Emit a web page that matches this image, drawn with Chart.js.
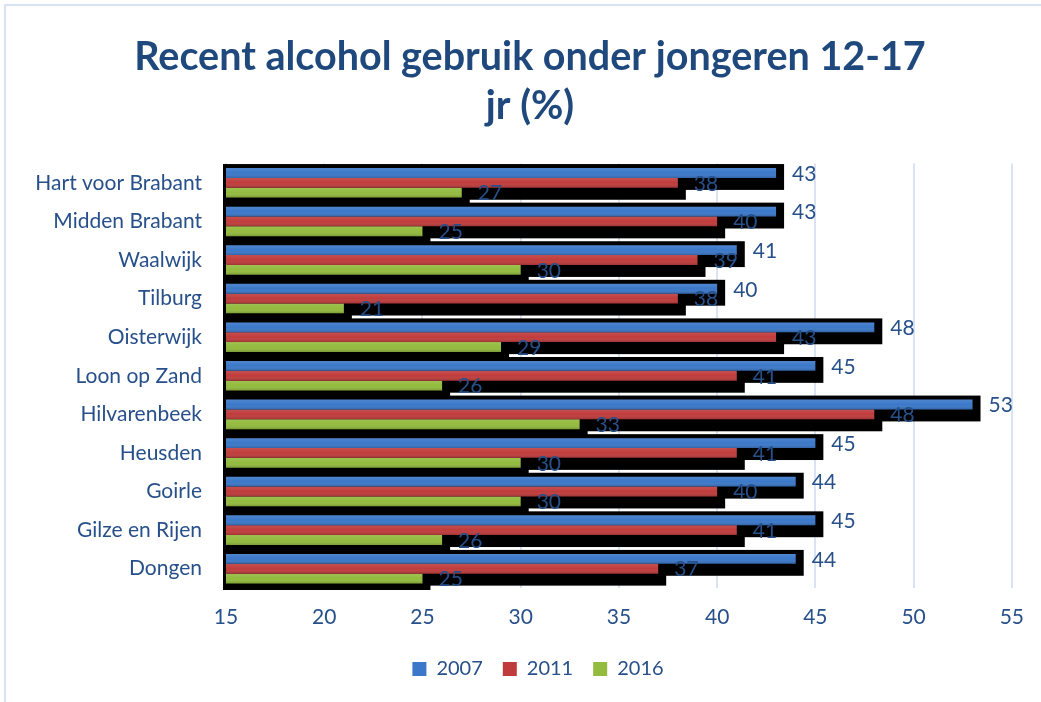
<!DOCTYPE html>
<html>
<head>
<meta charset="utf-8">
<script src="https://cdn.jsdelivr.net/npm/chart.js@4.4.1/dist/chart.umd.min.js"></script>
<style>
  html, body { margin: 0; padding: 0; background: #ffffff; }
  #wrap { position: relative; width: 1041px; height: 702px; overflow: hidden; }
  #frame { position: absolute; left: 4px; top: 4px; width: 1100px; height: 800px;
           border-left: 2px solid #d6e2f3; border-top: 2px solid #d6e2f3; }
  canvas { position: absolute; left: 0; top: 0; }
</style>
</head>
<body>
<div id="wrap">
  <div id="frame"></div>
  <canvas id="c" width="1041" height="702"></canvas>
</div>
<script>
const categories = ['Hart voor Brabant', 'Midden Brabant', 'Waalwijk', 'Tilburg', 'Oisterwijk',
  'Loon op Zand', 'Hilvarenbeek', 'Heusden', 'Goirle', 'Gilze en Rijen', 'Dongen'];
const seriesNames = ['2007', '2011', '2016'];
const values2007 = [43, 43, 41, 40, 48, 45, 53, 45, 44, 45, 44];
const values2011 = [38, 40, 39, 38, 43, 41, 48, 41, 40, 41, 37];
const values2016 = [27, 25, 30, 21, 29, 26, 33, 30, 30, 26, 25];
const xTicks = [15, 20, 25, 30, 35, 40, 45, 50, 55];

const TEXT = '#27508a';
const FONT = 'Lato, "Open Sans", sans-serif';

const shadowPlugin = {
  id: 'barShadows',
  afterLayout(chart) {
    if (chart.titleBlock) { chart.titleBlock.left += 24; chart.titleBlock.right += 24; }
    if (chart.legend) { chart.legend.left += 32; chart.legend.right += 32; }
  },
  beforeDatasetsDraw(chart) {
    const ctx = chart.ctx;
    const area = chart.chartArea;
    ctx.save();
    ctx.beginPath();
    ctx.rect(area.left - 3, area.top - 1, area.right - area.left + 20, area.bottom - area.top + 3);
    ctx.clip();
    ctx.fillStyle = '#000000';
    chart.data.datasets.forEach((ds, di) => {
      const meta = chart.getDatasetMeta(di);
      meta.data.forEach(el => {
        const h = el.height;
        const top = el.y - h / 2 - 4;
        const bottom = el.y + h / 2 + 12;
        ctx.fillRect(el.base - 2, top, el.x - el.base + 2 + 8, bottom - top);
      });
    });
    ctx.restore();
  }
};

const labelPlugin = {
  id: 'valueLabels',
  afterDatasetsDraw(chart) {
    const ctx = chart.ctx;
    const area = chart.chartArea;
    ctx.save();
    ctx.beginPath();
    ctx.rect(area.left, area.top, area.right - area.left, area.bottom - area.top);
    ctx.clip();
    // subtle vertical shading on each bar (lighter top, darker bottom)
    chart.data.datasets.forEach((ds, di) => {
      const meta = chart.getDatasetMeta(di);
      meta.data.forEach(el => {
        const h = el.height;
        const top = el.y - h / 2;
        const g = ctx.createLinearGradient(0, top, 0, top + h);
        g.addColorStop(0, 'rgba(255,255,255,0.10)');
        g.addColorStop(0.5, 'rgba(255,255,255,0)');
        g.addColorStop(1, 'rgba(0,0,0,0.18)');
        ctx.fillStyle = g;
        ctx.fillRect(el.base, top, el.x - el.base, h);
      });
    });
    ctx.restore();
    ctx.save();
    ctx.font = '21px ' + FONT;
    ctx.fillStyle = TEXT;
    ctx.textAlign = 'left';
    ctx.textBaseline = 'middle';
    chart.data.datasets.forEach((ds, di) => {
      const meta = chart.getDatasetMeta(di);
      meta.data.forEach((el, i) => {
        ctx.fillText(String(ds.data[i]), el.x + 16, el.y + 1);
      });
    });
    ctx.restore();
  }
};

new Chart(document.getElementById('c'), {
  type: 'bar',
  data: {
    labels: categories,
    datasets: [
      { label: seriesNames[0], data: values2007, backgroundColor: '#3b78c9' },
      { label: seriesNames[1], data: values2011, backgroundColor: '#c03c3c' },
      { label: seriesNames[2], data: values2016, backgroundColor: '#93bb3e' }
    ]
  },
  options: {
    indexAxis: 'y',
    responsive: false,
    animation: false,
    events: [],
    categoryPercentage: 0.766,
    barPercentage: 1.0,
    layout: { padding: { left: 0, right: 29, top: 8, bottom: 13 } },
    scales: {
      x: {
        min: 15, max: 55,
        afterBuildTicks(scale) { scale.ticks = xTicks.map(v => ({ value: v })); },
        afterFit(scale) { scale.height = 51; },
        grid: { color: '#d9e3f3', lineWidth: 2, drawTicks: false },
        border: { display: false },
        ticks: { color: TEXT, font: { family: FONT, size: 21 }, padding: 17 }
      },
      y: {
        afterFit(scale) { scale.width = 226; },
        grid: { display: false, drawTicks: false },
        border: { display: true, color: '#d9e3f3', width: 2 },
        ticks: { color: TEXT, font: { family: FONT, size: 21 }, padding: 24, autoSkip: false }
      }
    },
    plugins: {
      title: {
        display: true,
        text: ['Recent alcohol gebruik onder jongeren 12-17', 'jr (%)'],
        color: '#1f497d',
        font: { family: FONT, size: 39.5, weight: 'bold', lineHeight: 1.26 },
        padding: { top: 24, bottom: 32 }
      },
      legend: {
        display: true,
        position: 'bottom',
        labels: {
          color: TEXT,
          font: { family: FONT, size: 20 },
          boxWidth: 14, boxHeight: 14,
          padding: 20,
          generateLabels(chart) {
            return chart.data.datasets.map((ds, i) => ({
              text: ds.label, fillStyle: ds.backgroundColor, strokeStyle: ds.backgroundColor,
              lineWidth: 0, fontColor: TEXT, datasetIndex: i, hidden: false
            }));
          }
        }
      },
      tooltip: { enabled: false }
    }
  },
  plugins: [shadowPlugin, labelPlugin]
});
</script>
</body>
</html>
